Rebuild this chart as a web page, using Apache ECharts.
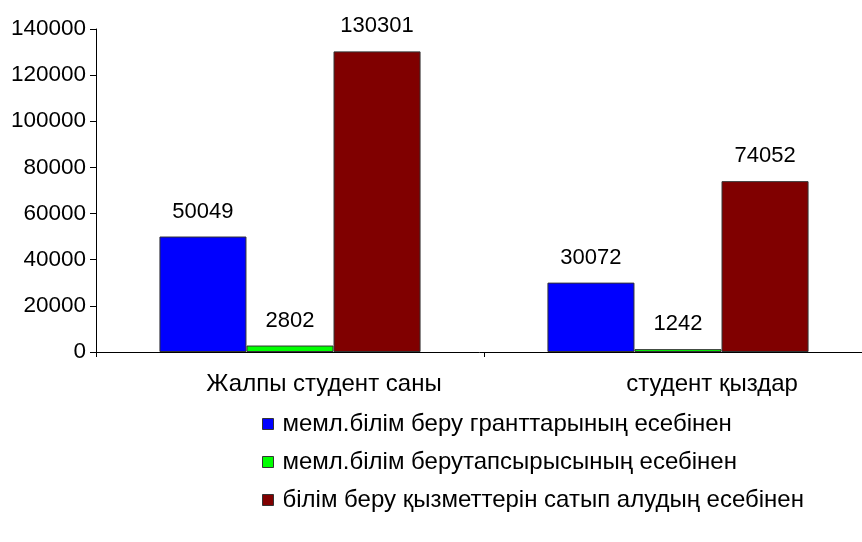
<!DOCTYPE html>
<html><head><meta charset="utf-8">
<script src="https://cdn.jsdelivr.net/npm/echarts@6/dist/echarts.min.js"></script>
<style>html,body{margin:0;padding:0;background:#fff}#c{width:862px;height:542px}</style>
</head><body><div id="c"></div>
<script>
const categories = ['Жалпы студент саны', 'студент қыздар'];
const seriesNames = ['мемл.білім беру гранттарының есебінен', 'мемл.білім берутапсырысының есебінен', 'білім беру қызметтерін сатып алудың есебінен'];
const grants = [50049, 30072];
const order = [2802, 1242];
const paid = [130301, 74052];
const yTicks = [0, 20000, 40000, 60000, 80000, 100000, 120000, 140000];
const colors = ['#0000FF', '#00FF00', '#800000'];

const font = 'Liberation Sans, Arial, sans-serif';
const chart = echarts.init(document.getElementById('c'));
const mk = (name, data, color) => ({
  name, type: 'bar', data, barGap: '0%', barCategoryGap: '32.7%',
  itemStyle: { color, borderColor: '#333', borderWidth: 1 },
  label: { show: true, position: 'top', distance: 14, fontSize: 22, fontFamily: font, color: '#000' }
});
chart.setOption({
  animation: false,
  grid: { left: 96, top: 29, width: 776, height: 323, outerBoundsMode: 'none', containLabel: false },
  xAxis: {
    type: 'category', data: categories,
    axisLine: { lineStyle: { color: '#000', width: 1 } },
    axisTick: { show: true, length: 5, lineStyle: { color: '#000' } },
    axisLabel: { fontSize: 24, fontFamily: font, color: '#000', margin: 20, padding: [0, 0, 0, 68] }
  },
  yAxis: {
    type: 'value', min: yTicks[0], max: yTicks[yTicks.length - 1], interval: 20000,
    axisLine: { show: true, lineStyle: { color: '#000', width: 1 } },
    axisTick: { show: true, length: 6, lineStyle: { color: '#000' } },
    splitLine: { show: false },
    axisLabel: { fontSize: 22.5, fontFamily: font, color: '#000', margin: 10, formatter: v => String(v) }
  },
  legend: {
    orient: 'vertical', left: 257, top: 407, itemGap: 14, itemWidth: 11, itemHeight: 11,
    icon: 'rect',
    textStyle: { fontSize: 24, fontFamily: font, color: '#000', padding: [0, 0, 0, 4] },
    data: seriesNames.map((n, i) => ({ name: n, itemStyle: { color: colors[i], borderColor: '#333', borderWidth: 1 } }))
  },
  series: [mk(seriesNames[0], grants, colors[0]), mk(seriesNames[1], order, colors[1]), mk(seriesNames[2], paid, colors[2])]
});
</script></body></html>
